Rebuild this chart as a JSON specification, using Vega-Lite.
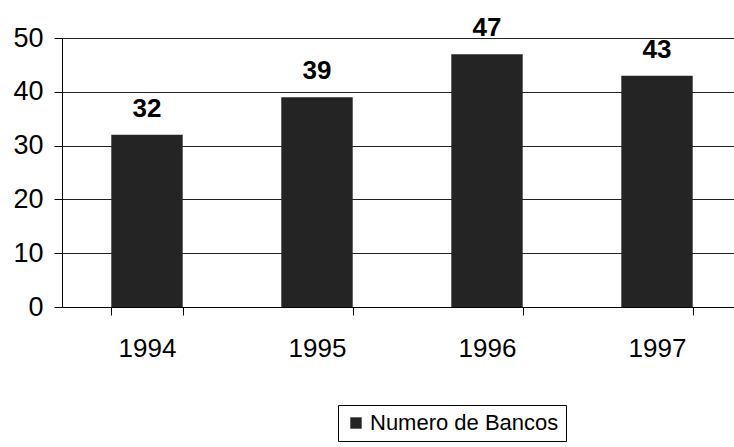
{
  "$schema": "https://vega.github.io/schema/vega-lite/v6.json",
  "width": 672,
  "height": 269,
  "autosize": {"type": "none"},
  "padding": {"left": 62, "top": 38, "right": 0, "bottom": 140},
  "background": "white",
  "config": {
    "font": "Liberation Sans",
    "view": {"stroke": null}
  },
  "data": {
    "values": [
      {"ano": "1994", "bancos": 32, "serie": "Numero de Bancos"},
      {"ano": "1995", "bancos": 39, "serie": "Numero de Bancos"},
      {"ano": "1996", "bancos": 47, "serie": "Numero de Bancos"},
      {"ano": "1997", "bancos": 43, "serie": "Numero de Bancos"}
    ]
  },
  "encoding": {
    "x": {
      "field": "ano",
      "type": "nominal",
      "sort": null,
      "scale": {"range": [0, 680], "paddingInner": 0.58, "paddingOuter": 0.29},
      "axis": {
        "title": null,
        "labelAngle": 0,
        "labelFont": "Liberation Sans",
        "labelFontSize": 26,
        "labelColor": "black",
        "labelPadding": 20,
        "domainColor": "black",
        "domainWidth": 1,
        "tickColor": "black",
        "tickSize": 8,
        "tickBand": "extent",
        "grid": false
      }
    },
    "y": {
      "field": "bancos",
      "type": "quantitative",
      "scale": {"domain": [0, 50], "nice": false},
      "axis": {
        "title": null,
        "values": [0, 10, 20, 30, 40, 50],
        "labelFont": "Liberation Sans",
        "labelFontSize": 27,
        "labelColor": "black",
        "labelPadding": 11,
        "domainColor": "black",
        "domainWidth": 1,
        "tickColor": "black",
        "tickSize": 8,
        "grid": true,
        "gridColor": "#222222",
        "gridWidth": 1
      }
    }
  },
  "layer": [
    {
      "mark": {"type": "bar"},
      "encoding": {
        "color": {
          "field": "serie",
          "type": "nominal",
          "scale": {"range": ["#242424"]},
          "legend": {
            "title": null,
            "orient": "none",
            "legendX": 276,
            "legendY": 367,
            "symbolType": "square",
            "symbolSize": 130,
            "symbolStrokeWidth": 0,
            "labelFont": "Liberation Sans",
            "labelFontSize": 22,
            "labelLimit": 400,
            "labelColor": "black",
            "labelOffset": 3,
            "strokeColor": "black",
            "fillColor": "white",
            "padding": 7
          }
        }
      }
    },
    {
      "mark": {"type": "text", "baseline": "alphabetic", "dy": -18, "fontSize": 26, "fontWeight": "bold", "font": "Liberation Sans", "color": "black"},
      "encoding": {
        "text": {"field": "bancos", "type": "quantitative"}
      }
    }
  ]
}
